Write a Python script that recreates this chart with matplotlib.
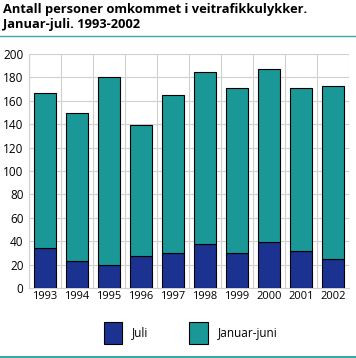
import matplotlib
matplotlib.use("Agg")
import matplotlib.pyplot as plt
import numpy as np
from matplotlib.lines import Line2D

plt.rcParams["font.family"] = ["Open Sans", "DejaVu Sans"]

years = ["1993", "1994", "1995", "1996", "1997", "1998", "1999", "2000", "2001", "2002"]
totals = [167, 150, 180, 139, 165, 185, 171, 187, 171, 173]
juli = [34, 23, 20, 27, 30, 38, 30, 39, 32, 25]
jan_jun = [t - j for t, j in zip(totals, juli)]

C_JULI = "#1b3291"
C_JANJUN = "#1a9898"
C_LINE = "#3aa9a9"

fig = plt.figure(figsize=(3.56, 3.58), dpi=100)
ax = fig.add_axes([0.0815, 0.1955, 0.8985, 0.6535])

x = np.arange(len(years))
ax.bar(x, juli, 0.7, color=C_JULI, edgecolor="black", linewidth=0.8, zorder=3, label="Juli")
ax.bar(x, jan_jun, 0.7, bottom=juli, color=C_JANJUN, edgecolor="black", linewidth=0.8,
       zorder=3, label="Januar-juni")

ax.set_xlim(-0.5, len(years) - 0.5)
ax.set_ylim(0, 200)
ax.set_yticks(range(0, 201, 20))
ax.set_xticks(x)
ax.set_xticklabels(years, fontsize=8)
ax.tick_params(axis="y", labelsize=8.5, length=0, pad=4)
ax.tick_params(axis="x", length=0, pad=2)
ax.set_xticks(np.arange(-0.5, len(years), 1), minor=True)
ax.tick_params(axis="x", which="minor", length=0)
ax.grid(True, axis="y", color="#d0d0d0", linewidth=0.8, zorder=0)
ax.grid(True, axis="x", which="minor", color="#d0d0d0", linewidth=0.8, zorder=0)
for s in ["top", "right"]:
    ax.spines[s].set_visible(False)
ax.spines["left"].set_color("#d0d0d0")
ax.spines["bottom"].set_color("#d0d0d0")

fig.text(0.008, 0.992, "Antall personer omkommet i veitrafikkulykker.\nJanuar-juli. 1993-2002",
         fontsize=9.3, fontweight="bold", va="top", ha="left", linespacing=1.2)
fig.add_artist(Line2D([0, 1], [0.9, 0.9], color=C_LINE, linewidth=1.0))
fig.add_artist(Line2D([0, 1], [0.003, 0.003], color=C_LINE, linewidth=1.5))

handles, labels = ax.get_legend_handles_labels()
fig.legend(handles, labels, loc="center", bbox_to_anchor=(0.535, 0.07), ncol=2,
           frameon=False, fontsize=8.5, handlelength=1.6, handleheight=2.5,
           columnspacing=3.5, handletextpad=0.8)

plt.savefig("out.png", dpi=100)
